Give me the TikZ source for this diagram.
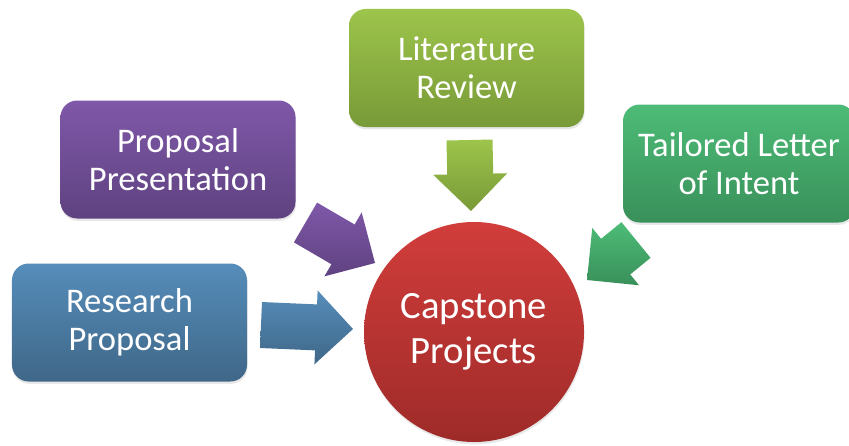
\documentclass[tikz,border=0pt]{standalone}
\usepackage{fontspec}
\setmainfont{Carlito}
\usetikzlibrary{calc,shadows}
\definecolor{purT}{HTML}{7F58A9}
\definecolor{purB}{HTML}{5F4280}
\definecolor{bluT}{HTML}{568DBA}
\definecolor{bluB}{HTML}{3F6788}
\definecolor{litT}{HTML}{9DC44B}
\definecolor{litB}{HTML}{789A38}
\definecolor{grnT}{HTML}{4DBC77}
\definecolor{grnB}{HTML}{39905A}
\definecolor{redT}{HTML}{D13D3B}
\definecolor{redB}{HTML}{9E2B29}
\def\aw{0.69cm}
\def\ah{1.11cm}
\def\al{1.11cm}
\tikzset{
  box/.style={rounded corners=0.5cm, minimum width=7.05cm, minimum height=3.54cm,
    inner sep=0pt, text=white, align=center,
    font=\fontsize{29.5}{32.5}\selectfont,
    drop shadow={opacity=0.18, shadow xshift=0.5pt, shadow yshift=-2pt}},
  hub/.style={circle, minimum size=6.6cm, inner sep=0pt, text=white, align=center,
    font=\fontsize{33}{38}\selectfont,
    drop shadow={opacity=0.18, shadow xshift=0.5pt, shadow yshift=-2pt}},
  arrowshape/.style={draw=none}
}
\newcommand\blockarrow[4]{%
  \coordinate (#2-base) at ($(#2)!\al!(#1)$);
  \path[arrowshape, top color=#3, bottom color=#4]
    ($(#1)!\aw!90:(#2)$) -- ($(#2-base)!\aw!90:(#2)$) -- ($(#2-base)!\ah!90:(#2)$)
    -- (#2) -- ($(#2-base)!\ah!-90:(#2)$) -- ($(#2-base)!\aw!-90:(#2)$)
    -- ($(#1)!\aw!-90:(#2)$) -- cycle;}
\begin{document}
\begin{tikzpicture}[x=0.03cm, y=-0.03cm]
\clip (0,0) rectangle (849,445);
\fill[white] (0,0) rectangle (849,445);

\node[box, top color=litT, bottom color=litB] (lit) at (466.5,68) {Literature\\Review};
\node[box, top color=purT, bottom color=purB] (pres) at (178,159.5) {Proposal\\Presentation};
\node[box, top color=bluT, bottom color=bluB] (res) at (129.5,322.5) {Research\\Proposal};
\node[box, top color=grnT, bottom color=grnB, minimum width=6.96cm] (tail) at (739,163.5) {Tailored Letter\\of Intent};
\node[hub, top color=redT, bottom color=redB] (cap) at (474,332) {\raisebox{0pt}{Capstone}\\Projects};

\coordinate (litA) at (469.5,140);
\coordinate (litZ) at (471,211);
\coordinate (presA) at (305.5,222.5);
\coordinate (presZ) at (375,263);
\coordinate (resA) at (261,325);
\coordinate (resZ) at (353,329);
\coordinate (tailA) at (636,240);
\coordinate (tailZ) at (587,280);

\blockarrow{litA}{litZ}{litT}{litB}
\blockarrow{presA}{presZ}{purT}{purB}
\blockarrow{resA}{resZ}{bluT}{bluB}
\blockarrow{tailA}{tailZ}{grnT}{grnB}
\end{tikzpicture}
\end{document}
